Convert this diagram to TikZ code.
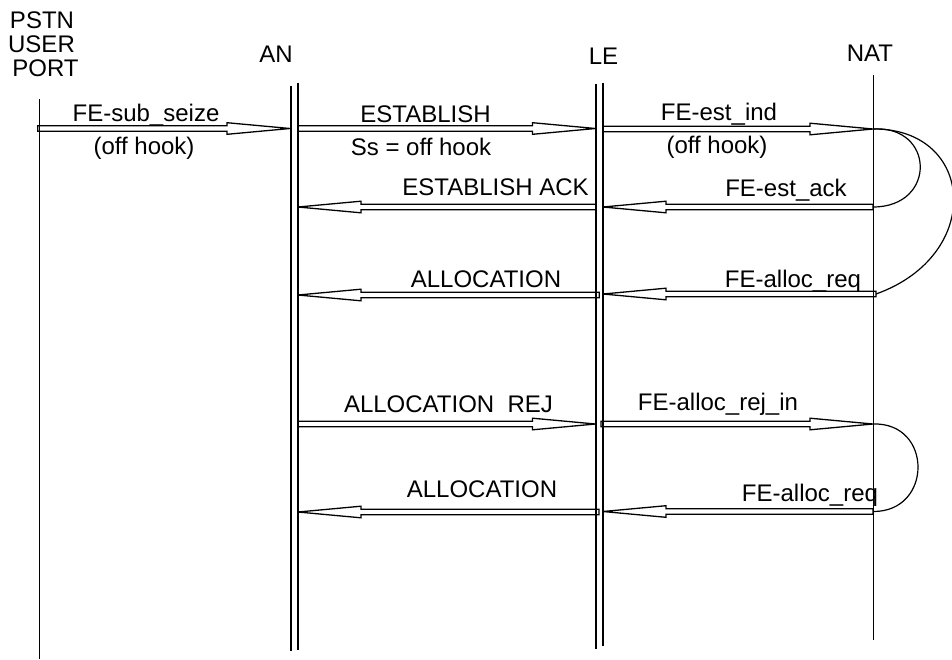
\documentclass[tikz,border=0pt]{standalone}
\usepackage{fontspec}
\setmainfont{Liberation Sans}
\usetikzlibrary{calc}
\newcommand\msgarrow[2]{%
  \draw[msgline] let \p1=(#1), \p2=(#2), \n1={ifthenelse(\x2>\x1,1,-1)} in
    (\x1,\y1+1.4pt) -- (\x2-\n1*31.5pt,\y1+1.4pt) -- (\x2-\n1*31.5pt,\y1+2.9pt)
    -- (\x2,\y1) -- (\x2-\n1*31.5pt,\y1-2.9pt) -- (\x2-\n1*31.5pt,\y1-1.4pt)
    -- (\x1,\y1-1.4pt) -- cycle;}
\begin{document}
\begin{tikzpicture}[x=0.5pt,y=-0.5pt,
  life/.style={line width=0.8pt},
  msgline/.style={line width=0.65pt},
  loopline/.style={line width=0.6pt},
  lbl/.style={font=\fontsize{12}{12}\selectfont, inner sep=0pt, anchor=base}]
\useasboundingbox (0,0) rectangle (952,659);
% lifeline ends
\coordinate (pstnT) at (39.5,99);  \coordinate (pstnB) at (39.5,659);
\coordinate (anLT) at (291,86);    \coordinate (anLB) at (291,651);
\coordinate (anRT) at (297.7,83);  \coordinate (anRB) at (297.7,650);
\coordinate (leLT) at (596,84);    \coordinate (leLB) at (596,649);
\coordinate (leRT) at (602.7,83);  \coordinate (leRB) at (602.7,646);
\coordinate (natT) at (873.3,75);  \coordinate (natB) at (873.3,640);
\draw[life] (pstnT) -- (pstnB);
\draw[life] (anLT) -- (anLB);
\draw[life] (anRT) -- (anRB);
\draw[life] (leLT) -- (leLB);
\draw[life] (leRT) -- (leRB);
\draw[life] (natT) -- (natB);
% headers
\node[lbl] (pstn) at (42,28) {PSTN};
\node[lbl] (user) at (41.5,52) {USER};
\node[lbl] (port) at (45.5,76) {PORT};
\node[lbl] (an) at (276,62) {AN};
\node[lbl] (le) at (603.5,64) {LE};
\node[lbl] (nat) at (870,61) {NAT};
% message end points
\coordinate (m1s) at (37.7,128.5); \coordinate (m1e) at (290,128.5);
\coordinate (m2s) at (298,128.5);  \coordinate (m2e) at (595.5,128.5);
\coordinate (m3s) at (603,129);    \coordinate (m3e) at (873,129);
\coordinate (m4s) at (596,207);    \coordinate (m4e) at (298,207);
\coordinate (m5s) at (873,207);    \coordinate (m5e) at (603,207);
\coordinate (m6s) at (599.3,295);  \coordinate (m6e) at (298,295);
\coordinate (m7s) at (876,294);    \coordinate (m7e) at (603,294);
\coordinate (m8s) at (298,424);    \coordinate (m8e) at (595.5,424);
\coordinate (m9s) at (601,424);    \coordinate (m9e) at (873,424);
\coordinate (m10s) at (599,512);   \coordinate (m10e) at (298,512);
\coordinate (m11s) at (873,511.5); \coordinate (m11e) at (603,511.5);
\msgarrow{m1s}{m1e}
\msgarrow{m2s}{m2e}
\msgarrow{m3s}{m3e}
\msgarrow{m4s}{m4e}
\msgarrow{m5s}{m5e}
\msgarrow{m6s}{m6e}
\msgarrow{m7s}{m7e}
\msgarrow{m8s}{m8e}
\msgarrow{m9s}{m9e}
\msgarrow{m10s}{m10e}
\msgarrow{m11s}{m11e}
% loops at NAT
\draw[loopline] (m3e) .. controls (935,125) and (937,207) .. (m5s);
\draw[loopline] (m3e) .. controls (975,128) and (985,255) .. (m7s);
\draw[loopline] (m9e) .. controls (933,422) and (933,512) .. (m11s);
% labels
\node[lbl] (l1a) at (146,121) {FE-sub\_seize};
\node[lbl] (l1b) at (144,154) {(off hook)};
\node[lbl] (l2a) at (425.5,122) {ESTABLISH};
\node[lbl] (l2b) at (421,155) {Ss = off hook};
\node[lbl] (l3a) at (719,120) {FE-est\_ind};
\node[lbl] (l3b) at (717,153) {(off hook)};
\node[lbl] (l4) at (495.5,195) {ESTABLISH ACK};
\node[lbl] (l5) at (786,196) {FE-est\_ack};
\node[lbl] (l6) at (486,287) {ALLOCATION};
\node[lbl] (l7) at (793,287) {FE-alloc\_req};
\node[lbl] (l8) at (448.5,412) {ALLOCATION\ \ REJ};
\node[lbl] (l9) at (718,410) {FE-alloc\_rej\_in};
\node[lbl] (l10) at (482,497) {ALLOCATION};
\node[lbl] (l11) at (810,501) {FE-alloc\_req};
\end{tikzpicture}
\end{document}
